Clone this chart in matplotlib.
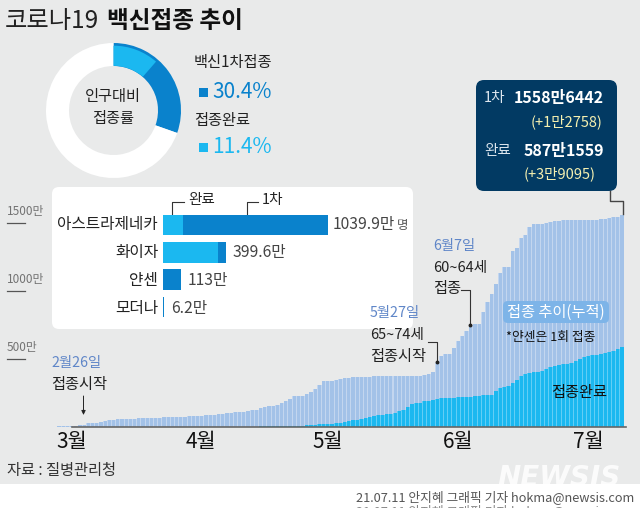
import matplotlib
matplotlib.use("Agg")
import matplotlib.pyplot as plt
from matplotlib.patches import FancyBboxPatch, Rectangle

plt.rcParams['font.family'] = ['Noto Sans CJK KR', 'DejaVu Sans']

# cumulative doses, unit: 10,000 (만), one value per day from 2/26
first_dose = [5,6,7,8,9,12,17,26,30,30,39,46,51,54,58,59,60,61,62,63,64,65,66,68,69,71,73,74,76,76,
              77,78,81,82,83,85,86,88,92,98,102,106,110,113,113,114,122,125,140,150,152,152,164,179,191,
              203,225,225,225,243,260,282,309,336,338,338,348,355,358,363,368,370,370,371,371,372,372,
              372,373,373,373,374,374,375,375,376,378,382,392,402,468,522,539,539,578,632,671,708,750,
              755,755,845,916,980,1053,1134,1174,1176,1294,1313,1392,1411,1468,1492,1492,1492,1500,1504,
              1512,1517,1519,1519,1519,1520,1521,1521,1524,1524,1524,1529,1531,1534,1541,1546,1556]
completed = [0]*30 + [1]*10 + [2,2,2,3,3,3,3,3,4,4,4,5,5,6,7,8,9,10,11,12,
             15,17,22,25,25,25,32,32,34,44,51,54,56,64,74,78,86,91,93,96,105,120,125,147,171,174,176,
             189,194,198,206,211,216,216,216,220,220,220,223,225,225,233,233,238,262,287,296,299,323,
             345,377,390,397,404,404,414,426,439,448,456,463,463,473,488,500,512,524,529,529,534,544,
             551,561,573,587]
month_ticks = [3, 33.7, 64, 95, 126]
month_labels = ['3월', '4월', '5월', '6월', '7월']
y_ticks = [500, 1000, 1500]

rate_labels = ['백신1차접종', '접종완료']
rate_first = 30.4
rate_done = 11.4

vaccines = ['아스트라제네카', '화이자', '얀센', '모더나']
vac_total = [1039.9, 399.6, 113, 6.2]
vac_done = [126, 346, 113, 0]
vac_text = ['1039.9만', '399.6만', '113만', '6.2만']

W, H = 640, 508
BG = '#E9EAEA'; LIGHT = '#A3C2E8'; LIGHT_GAP = '#C3D6EF'; CYAN = '#1BB8F0'; CYAN_GAP = '#63CEF5'
BLUE = '#0A82CC'; NAVY = '#023A63'; PERI = '#5F86C8'; DARK = '#222222'

fig = plt.figure(figsize=(6.4, 5.08), dpi=100, facecolor='white')

def axes_px(x0, y0, x1, y1, **kw):
    return fig.add_axes([x0/W, 1-y1/H, (x1-x0)/W, (y1-y0)/H], **kw)

# gray background
bg = axes_px(0, 0, 640, 484); bg.set_facecolor(BG); bg.set_xticks([]); bg.set_yticks([])
for s in bg.spines.values(): s.set_visible(False)

# main cumulative bars
ax = axes_px(57, 204, 627, 427)
ax.patch.set_alpha(0)
days = list(range(len(first_dose)))
ax.bar(days, first_dose, width=1.02, color=LIGHT_GAP, linewidth=0)
ax.bar(days, first_dose, width=0.76, color=LIGHT, linewidth=0)
ax.bar(days, completed, width=1.02, color=CYAN_GAP, linewidth=0)
ax.bar(days, completed, width=0.76, color=CYAN, linewidth=0)
ax.set_xlim(-0.48, 135.2)
ax.set_ylim(0, 223/0.136)
for s in ['top', 'left', 'right']: ax.spines[s].set_visible(False)
ax.spines['bottom'].set_color('#666666'); ax.spines['bottom'].set_linewidth(1.2)
ax.spines['bottom'].set_bounds(3, 135)
ax.set_yticks([])
ax.set_xticks(month_ticks)
ax.set_xticklabels(month_labels, fontsize=15, color='#111111')
ax.tick_params(axis='x', length=0, pad=3)

# overlay in pixel coordinates
ov = axes_px(0, 0, 640, 508); ov.set_xlim(0, 640); ov.set_ylim(508, 0); ov.axis('off'); ov.patch.set_alpha(0)

def T(x, y, s, size=10, color=DARK, ha='left', va='center', **kw):
    return ov.text(x, y, s, fontsize=size, color=color, ha=ha, va=va, **kw)

# title
T(5, 21, '코로나19', 17.5, '#222222')
T(107, 21, '백신접종 추이', 17, '#111111', fontweight='bold')

# white panel
ov.add_patch(FancyBboxPatch((52, 187), 361, 142, boxstyle='round,pad=0,rounding_size=7',
                            fc='white', ec='none'))

# y tick labels
for v in y_ticks:
    yy = 427 - v*0.136
    T(7, yy-11, f'{v}만', 8.5, '#666666', alpha=.9)
    ov.plot([7, 25], [yy, yy], color='#555555', lw=0.9)

# donut
dn = axes_px(113.5-67.5, 110.5-67.5, 113.5+67.5, 110.5+67.5)
dn.pie([rate_first, 100-rate_first], colors=[BLUE, 'white'], startangle=90, counterclock=False, radius=1,
       wedgeprops=dict(width=23/67.5, linewidth=0))
dn.pie([rate_done, 100-rate_done], colors=[CYAN, 'none'], startangle=90, counterclock=False, radius=0.96,
       wedgeprops=dict(width=0.96-44.7/67.5, linewidth=0))
dn.set_xlim(-1, 1); dn.set_ylim(-1, 1)
T(113, 97, '인구대비', 11, ha='center')
T(113, 118, '접종률', 11, ha='center')

T(194, 63, rate_labels[0], 11)
ov.add_patch(Rectangle((199, 88), 9, 9, fc=BLUE, ec='none'))
T(212, 92, f'{rate_first}%', 15, BLUE, fontweight='medium')
T(194, 120, rate_labels[1], 11)
ov.add_patch(Rectangle((199, 143), 9, 9, fc=CYAN, ec='none'))
T(212, 147, f'{rate_done}%', 15, CYAN, fontweight='medium')

# vaccine bars
hb = axes_px(163, 210, 163+165, 322)
hb.patch.set_alpha(0)
ypos = [0, 1, 2, 3]
hb.barh(ypos, vac_total, height=0.76, color=BLUE, linewidth=0)
hb.barh(ypos, [d if d < t else 0 for d, t in zip(vac_done, vac_total)], height=0.76, color=CYAN, linewidth=0)
hb.set_xlim(0, 1039.9); hb.set_ylim(3.55, -0.55); hb.axis('off')
for name, y in zip(vaccines, [224.5, 253, 281, 308]):
    T(158, y, name, 11.3, '#222222', ha='right')
for s, x, y in zip(vac_text, [333, 233, 188, 171], [224.5, 253, 281, 308]):
    T(x, y, s, 11.3, '#444444', fontweight='medium')
T(397, 226, '명', 9, '#555555')
T(188, 200, '완료', 10.5, ha='left')
T(262, 200, '1차', 10.5, ha='left')
ov.plot([172, 172, 184], [218, 202, 202], color='#333333', lw=0.8)
ov.plot([247, 247, 258], [218, 202, 202], color='#333333', lw=0.8)

# callout box
ov.add_patch(FancyBboxPatch((481, 85), 131, 101, boxstyle='round,pad=5,rounding_size=8', fc=NAVY, ec='none'))
T(484, 98, '1차', 10.5, '#DDE6EE')
T(604, 98, '1558만6442', 11.5, 'white', ha='right', fontweight='bold')
T(602, 122, '(+1만2758)', 10.5, '#F5F0B0', ha='right')
T(484, 151, '완료', 10.5, '#DDE6EE')
T(604, 151, '587만1559', 11.5, 'white', ha='right', fontweight='bold')
T(596, 174, '(+3만9095)', 10.5, '#F5F0B0', ha='right')
ov.plot([610, 610, 622.5, 622.5], [191, 201, 201, 214], color='#444444', lw=1)

# annotations
T(51, 363, '2월26일', 10.3, PERI, fontweight='medium')
T(51, 384, '접종시작', 11)
ov.annotate('', xy=(83.5, 415), xytext=(83.5, 396), arrowprops=dict(arrowstyle='-|>,head_width=0.12,head_length=0.25', color='#222222', lw=.7, shrinkA=0, shrinkB=0))

T(370, 313, '5월27일', 10.3, PERI, fontweight='medium')
T(370, 335, '65~74세', 10.5)
T(370, 356, '접종시작', 11)
ov.plot([428, 437, 437], [342, 342, 361], color='#333333', lw=.8)
ov.plot([437], [362], 'o', ms=1.8, color='#222222')

T(433, 246, '6월7일', 10.3, PERI, fontweight='medium')
T(433, 268, '60~64세', 10.5)
T(433, 289, '접종', 11)
ov.plot([461, 470, 470], [290, 290, 325], color='#333333', lw=.8)
ov.plot([470], [325], 'o', ms=1.8, color='#222222')

ov.add_patch(FancyBboxPatch((505, 303), 102, 18, boxstyle='round,pad=2,rounding_size=5', fc='#7DB4E8', ec='none'))
T(556, 312, '접종 추이(누적)', 11, 'white', ha='center')
T(506, 337, '*얀센은 1회 접종', 9.2, '#111111')
T(551, 393, '접종완료', 11, '#111111')

# source and credits
T(7, 471, '자료 : 질병관리청', 11, '#333333')
T(621, 478, 'NEWSIS', 20, 'white', ha='right', fontstyle='italic', fontweight='bold', family='DejaVu Sans', alpha=.85)
T(634, 497, '21.07.11 안지혜 그래픽 기자 hokma@newsis.com', 9.2, '#555555', ha='right')
T(634, 511, '21.07.11 안지혜 그래픽 기자 hokma@newsis.com', 9.2, '#888888', ha='right', clip_on=False)

fig.savefig('out.png', dpi=100)
